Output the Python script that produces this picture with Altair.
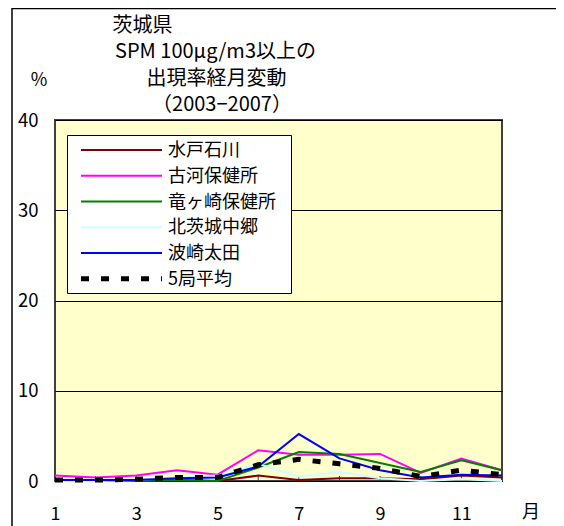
import altair as alt
import pandas as pd

months = list(range(1, 13))
names = ["水戸石川", "古河保健所", "竜ヶ崎保健所", "北茨城中郷", "波崎太田", "5局平均"]
colors = ["#800000", "#FF00FF", "#008000", "#CCFFFF", "#0000FF", "#000000"]
v_mito = [0.0, 0.0, 0.0, 0.1, 0.0, 0.6, 0.1, 0.3, 0.3, 0.2, 0.6, 0.4]
v_koga = [0.6, 0.4, 0.6, 1.2, 0.7, 3.4, 2.9, 2.9, 3.0, 0.9, 2.5, 1.2]
v_ryu = [0.0, 0.0, 0.0, 0.1, 0.0, 1.5, 3.2, 3.0, 2.0, 1.0, 2.3, 1.2]
v_kita = [0.0, 0.0, 0.1, 0.4, 0.6, 1.9, 0.5, 1.0, 0.3, 0.0, 0.2, 0.0]
v_hasaki = [0.1, 0.1, 0.1, 0.3, 0.4, 1.6, 5.2, 2.5, 1.2, 0.4, 0.7, 0.6]
v_avg = [0.1, 0.1, 0.2, 0.4, 0.4, 1.8, 2.4, 1.9, 1.4, 0.5, 1.2, 0.7]
series = [v_mito, v_koga, v_ryu, v_kita, v_hasaki, v_avg]
y_ticks = [0, 10, 20, 30, 40]
x_ticks = [1, 3, 5, 7, 9, 11]
title_lines = ["茨城県", "SPM 100μg/m3以上の", "出現率経月変動", "（2003−2007）"]

FONT = "Noto Sans CJK JP"
W, H = 447, 361

rows = []
for n, vals in zip(names, series):
    for m, v in zip(months, vals):
        rows.append({"month": m, "name": n, "value": v})
df = pd.DataFrame(rows)
one = alt.Data(values=[{"a": 1}])

xs = alt.X("month:Q", scale=alt.Scale(domain=[1, 12], nice=False),
           axis=alt.Axis(values=x_ticks, title=None, grid=False, domain=False, ticks=False,
                         labelFlush=False, labelPadding=24, labelFontSize=18,
                         labelFont=FONT, labelColor="black"))
ys = alt.Y("value:Q", scale=alt.Scale(domain=[0, 40], nice=False),
           axis=alt.Axis(values=y_ticks, title=None, grid=True, gridColor="black",
                         gridWidth=1, domain=False, ticks=False, labelPadding=17,
                         labelFontSize=18.5, labelFont=FONT, labelColor="black"))

layers = []
# inside tick marks along bottom
tickdf = pd.DataFrame({"month": months, "value": [0] * 12})
layers.append(alt.Chart(tickdf).mark_rule(color="#404040", strokeWidth=1).encode(
    x=xs, y=ys, y2=alt.value(H - 5)))

for n, c in zip(names, colors):
    sub = df[df["name"] == n]
    if n == "5局平均":
        mk = alt.Chart(sub).mark_line(color=c, strokeWidth=5, strokeDash=[8, 12], strokeCap="butt")
    else:
        mk = alt.Chart(sub).mark_line(color=c, strokeWidth=2)
    layers.append(mk.encode(x=xs, y=ys))

# legend box
layers.append(alt.Chart(one).mark_rect(fill="white", stroke="black", strokeWidth=1).encode(
    x=alt.value(12.5), x2=alt.value(236.5), y=alt.value(15.5), y2=alt.value(173.5)))
for i, (n, c) in enumerate(zip(names, colors)):
    ly = 30 + 25.75 * i
    if n == "5局平均":
        r = alt.Chart(one).mark_rule(color=c, strokeWidth=5, strokeDash=[8, 12], strokeCap="butt")
    else:
        r = alt.Chart(one).mark_rule(color=c, strokeWidth=2)
    layers.append(r.encode(x=alt.value(26), x2=alt.value(107), y=alt.value(ly)))
    layers.append(alt.Chart(one).mark_text(align="left", baseline="middle", fontSize=18,
                                           font=FONT, color="black").encode(
        x=alt.value(113), y=alt.value(ly + 1), text=alt.value(n)))

# title lines
tpos = [(87.5, -94), (160.5, -68), (161.5, -41), (167, -15)]
for t, (tx, ty) in zip(title_lines, tpos):
    layers.append(alt.Chart(one).mark_text(align="center", baseline="middle", fontSize=20,
                                           font=FONT, color="black").encode(
        x=alt.value(tx), y=alt.value(ty), text=alt.value(t)))

layers.append(alt.Chart(one).mark_text(align="center", baseline="middle", fontSize=18,
                                       font=FONT, color="black").encode(
    x=alt.value(-16), y=alt.value(-39), text=alt.value("%")))
layers.append(alt.Chart(one).mark_text(align="center", baseline="middle", fontSize=18,
                                       font=FONT, color="black").encode(
    x=alt.value(476), y=alt.value(393), text=alt.value("月")))

# outer frame lines
layers.append(alt.Chart(one).mark_rule(color="black", strokeWidth=1.5).encode(
    x=alt.value(-43), x2=alt.value(501), y=alt.value(-111.5)))
layers.append(alt.Chart(one).mark_rule(color="black", strokeWidth=1.5).encode(
    x=alt.value(-43), y=alt.value(-112), y2=alt.value(410)))

chart = alt.layer(*layers).properties(
    width=W, height=H, autosize="none",
    padding={"left": 47, "top": 112, "right": 54, "bottom": 46},
).configure_view(stroke="#404040", strokeWidth=2, fill="#FFFFCC")

chart.save("out.html", embed_options={"renderer": "svg", "actions": False})
